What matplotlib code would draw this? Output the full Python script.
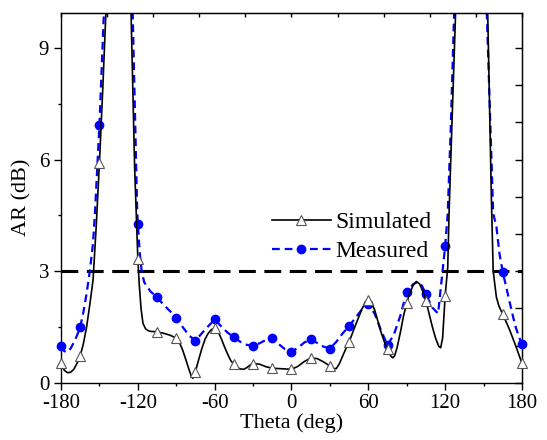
import numpy as np
import matplotlib
matplotlib.use("Agg")
import matplotlib.pyplot as plt
from matplotlib.lines import Line2D
from matplotlib.ticker import MultipleLocator

plt.rcParams["font.family"] = "Liberation Serif"
plt.rcParams["axes.unicode_minus"] = False

# simulated AR (dense curve)
sim_theta = [-180, -177.5, -175, -172.5, -170, -167.5, -165, -162.5, -160, -157.5,
             -155, -152.5, -150, -147.5, -145, -140, -135, -130, -127.5, -125,
             -122.5, -120, -119, -117.5, -116, -114, -112, -110, -105, -100,
             -95, -90, -87.5, -85, -82.5, -80, -78, -77, -76, -75,
             -72.5, -70, -67.5, -65, -62.5, -60, -57.5, -55, -52.5, -50,
             -47.5, -45, -42.5, -40, -37.5, -35, -32.5, -30, -25, -20,
             -15, -10, -5, 0, 5, 10, 15, 20, 25, 30,
             32.5, 35, 37.5, 40, 42.5, 45, 50, 55, 57.5, 60,
             62.5, 65, 67.5, 70, 72.5, 75, 77.5, 79, 80.5, 82.5,
             85, 87.5, 90, 92.5, 95, 97.5, 100, 102.5, 105, 107.5,
             110, 112.5, 115, 116.5, 118, 120, 122, 123, 124, 126,
             128, 130, 135, 140, 150, 152, 154, 156, 157.5, 160,
             162, 165, 170, 175, 180]
sim_ar = [0.52, 0.34, 0.27, 0.28, 0.36, 0.52, 0.72, 1.05, 1.5, 2.1,
          2.75, 4.2, 5.9, 7.8, 9.9, 18, 30, 18, 14, 9.5,
          5.8, 3.34, 2.7, 2.0, 1.6, 1.45, 1.4, 1.38, 1.37, 1.33,
          1.28, 1.2, 1.08, 0.88, 0.62, 0.35, 0.15, 0.12, 0.18, 0.3,
          0.62, 0.92, 1.17, 1.33, 1.43, 1.46, 1.38, 1.2, 0.98, 0.78,
          0.6, 0.49, 0.41, 0.37, 0.36, 0.4, 0.47, 0.51, 0.5, 0.43,
          0.39, 0.38, 0.37, 0.36, 0.44, 0.57, 0.66, 0.65, 0.56, 0.45,
          0.38, 0.38, 0.52, 0.72, 0.92, 1.1, 1.55, 1.98, 2.15, 2.22,
          2.15, 1.95, 1.65, 1.35, 1.1, 0.9, 0.72, 0.67, 0.72, 0.95,
          1.35, 1.8, 2.15, 2.42, 2.62, 2.72, 2.66, 2.46, 2.2, 1.85,
          1.5, 1.2, 0.98, 0.94, 1.2, 2.34, 3.1, 4.5, 5.6, 7.7,
          9.8, 13, 25, 30, 20, 12, 8.6, 5.1, 3.0, 2.3,
          2.06, 1.84, 1.45, 1.0, 0.52]

# measured AR
meas_theta = [-180, -177.5, -175, -172.5, -170, -167.5, -165, -162.5, -160, -157.5,
              -155, -153.5, -150, -146.5, -140, -135, -130, -124, -120.5, -120,
              -118.5, -117, -115, -110, -105, -100, -95, -90, -85, -80,
              -75, -70, -65, -60, -55, -50, -45, -40, -35, -30,
              -25, -20, -15, -10, -5, 0, 5, 10, 15, 20,
              25, 30, 35, 40, 45, 50, 55, 60, 65, 70,
              75, 80, 85, 90, 95, 99, 102, 105, 110, 114.5,
              120, 122, 124.5, 127, 130, 135, 145, 152.5, 157.5, 160,
              162.5, 165, 167.5, 170, 172.5, 175, 177.5, 180]
meas_ar = [0.99, 0.85, 0.82, 0.92, 1.08, 1.27, 1.5, 1.9, 2.4, 3.0,
           3.75, 4.55, 6.92, 9.95, 18, 25, 18, 9.95, 4.6, 4.28,
           3.5, 3.0, 2.7, 2.45, 2.3, 2.1, 1.93, 1.75, 1.5, 1.27,
           1.13, 1.33, 1.52, 1.7, 1.52, 1.35, 1.22, 1.1, 1.02, 0.99,
           1.06, 1.15, 1.21, 1.04, 0.9, 0.83, 0.94, 1.08, 1.17, 1.07,
           0.97, 0.92, 1.1, 1.33, 1.52, 1.75, 1.97, 2.12, 1.85, 1.4,
           1.01, 1.3, 1.8, 2.45, 2.65, 2.72, 2.6, 2.38, 2.02, 1.86,
           3.68, 4.55, 7.0, 9.95, 14, 25, 18, 9.95, 4.55, 4.2,
           3.45, 2.97, 2.6, 2.22, 1.85, 1.5, 1.25, 1.03]

ar_limit = 3.0
y_max = 9.95


def marker_points(theta, ar):
    t = np.asarray(theta, dtype=float)
    a = np.asarray(ar, dtype=float)
    keep = (np.mod(t, 15) == 0) & (a <= y_max)
    return t[keep], a[keep]


fig = plt.figure(figsize=(5.47, 4.40), dpi=100)
ax = fig.add_axes([0.1115, 0.1302, 0.8428, 0.8409])

ax.axhline(ar_limit, color="black", ls=(0, (5.5, 2.8)), lw=2.2, zorder=1)

ax.plot(meas_theta, meas_ar, color="#0000ff", ls=(0, (3.5, 2.2)), lw=1.6, zorder=2)
mt, ma = marker_points(meas_theta, meas_ar)
ax.plot(mt, ma, ls="none", marker="o", ms=6, color="#0000ff", clip_on=False, zorder=3)

ax.plot(sim_theta, sim_ar, color="black", lw=1.2, zorder=4)
st, sa = marker_points(sim_theta, sim_ar)
ax.plot(st, sa, ls="none", marker="^", ms=7, mfc="white", mec="#555555", mew=0.8,
        clip_on=False, zorder=5)

ax.set_xlim(-180, 180)
ax.set_ylim(0, y_max)
ax.xaxis.set_major_locator(MultipleLocator(60))
ax.xaxis.set_minor_locator(MultipleLocator(30))
ax.yaxis.set_major_locator(MultipleLocator(3))
ax.yaxis.set_minor_locator(MultipleLocator(1.5))
ax.tick_params(which="both", direction="out", top=False, right=False, labelsize=15,
               width=1.0, colors="black")
ax.tick_params(which="major", length=5)
ax.tick_params(which="minor", length=2.5)
ax.tick_params(axis="x", pad=3)
for s in ax.spines.values():
    s.set_linewidth(1.0)

top = ax.secondary_xaxis("top")
top.set_xticks(np.arange(-180, 181, 36))
top.tick_params(direction="in", length=3, width=1.0, labeltop=False)
right = ax.secondary_yaxis("right")
right.set_yticks(np.arange(0, 10, 1))
right.tick_params(direction="in", length=5, width=1.0, labelright=False)

ax.set_xlabel("Theta (deg)", fontsize=16, labelpad=0)
ax.set_ylabel("AR (dB)", fontsize=16, labelpad=5)

handles = [
    Line2D([], [], color="black", lw=1.2, marker="^", ms=7, mfc="white", mec="#555555", mew=0.8),
    Line2D([], [], color="#0000ff", lw=1.6, ls=(0, (3.5, 2.2)), marker="o", ms=6),
]
ax.legend(handles, ["Simulated", "Measured"], loc="upper left", bbox_to_anchor=(0.457, 0.462),
          frameon=False, fontsize=17, handlelength=2.5, handletextpad=0.2, labelspacing=0.3,
          borderpad=0, borderaxespad=0, numpoints=1)

fig.savefig("out.png", dpi=100)
